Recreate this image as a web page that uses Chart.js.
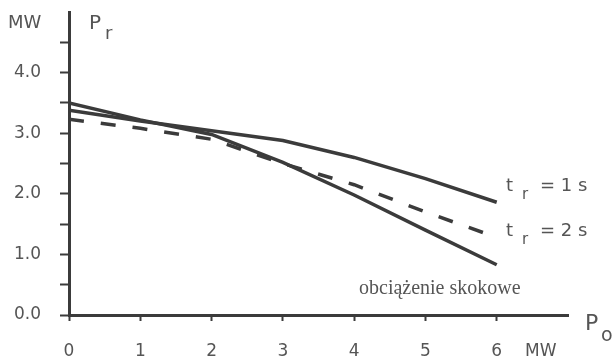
<!DOCTYPE html>
<html>
<head>
<meta charset="utf-8">
<script src="https://cdn.jsdelivr.net/npm/chart.js@4"></script>
<style>
    html, body { margin: 0; padding: 0; background: #fff; }
    #wrap { width: 614px; height: 359px; position: relative; }
</style>
</head>
<body>
<div id="wrap"><canvas id="chart"></canvas></div>
<script>
// values (MW)
const loads = [0, 1, 2, 3, 4, 5, 6];
const tr1s = [3.38, 3.2, 3.04, 2.88, 2.6, 2.25, 1.86];
const tr2s = [3.23, 3.08, 2.9, 2.5, 2.15, 1.7, 1.28];
const stepLoad = [3.5, 3.22, 2.98, 2.52, 1.98, 1.4, 0.83];
const yTickLabels = ['0.0', '1.0', '2.0', '3.0', '4.0'];

const ink = '#3b3b3b';
const textInk = '#555';

function toPoints(values) {
    return loads.map((x, i) => ({ x: x, y: values[i] }));
}

// text annotations drawn next to the axes and curves
const annotations = {
    id: 'annotations',
    afterDraw(chart) {
        const ctx = chart.ctx;
        ctx.save();
        ctx.fillStyle = textInk;
        ctx.textBaseline = 'alphabetic';
        ctx.textAlign = 'left';

        // axis units and names
        ctx.font = '18px "DejaVu Sans"';
        ctx.fillText('MW', 8, 28);
        ctx.font = '20px "DejaVu Sans"';
        ctx.fillText('P', 89, 29);
        ctx.font = '18px "DejaVu Sans"';
        ctx.fillText('r', 105, 39);

        ctx.font = '22px "DejaVu Sans"';
        ctx.fillText('P', 585, 330);
        ctx.font = '19px "DejaVu Sans"';
        ctx.fillText('o', 601, 341);
        ctx.font = '17px "DejaVu Sans"';
        ctx.fillText('MW', 525, 356);

        // curve labels
        ctx.font = '18px "DejaVu Sans"';
        ctx.fillText('t', 506, 191);
        ctx.fillText('= 1 s', 540, 191);
        ctx.fillText('t', 506, 236);
        ctx.fillText('= 2 s', 540, 236);
        ctx.font = '15px "DejaVu Sans"';
        ctx.fillText('r', 522, 199);
        ctx.fillText('r', 522, 244);

        ctx.font = '20px "Liberation Serif"';
        ctx.fillText('obciążenie skokowe', 359, 294);
        ctx.restore();
    }
};

new Chart(document.getElementById('chart'), {
    type: 'line',
    data: {
        datasets: [
            {
                label: 't_r = 1 s',
                data: toPoints(tr1s),
                borderColor: ink,
                borderWidth: 3.5,
                pointRadius: 0,
                tension: 0
            },
            {
                label: 't_r = 2 s',
                data: toPoints(tr2s),
                borderColor: ink,
                borderWidth: 3.5,
                borderDash: [15, 17],
                borderCapStyle: 'butt',
                pointRadius: 0,
                tension: 0
            },
            {
                label: 'obciążenie skokowe',
                data: toPoints(stepLoad),
                borderColor: ink,
                borderWidth: 3.5,
                pointRadius: 0,
                tension: 0
            }
        ]
    },
    options: {
        responsive: true,
        maintainAspectRatio: false,
        animation: false,
        layout: { padding: { left: 0, right: 46, top: 12, bottom: 0 } },
        plugins: {
            legend: { display: false },
            tooltip: { enabled: false }
        },
        scales: {
            x: {
                type: 'linear',
                min: 0,
                max: 7,
                afterFit: (scale) => { scale.height = 44; scale.paddingRight = 0; scale.paddingLeft = 0; },
                border: { color: ink, width: 3 },
                grid: {
                    drawOnChartArea: false,
                    tickLength: 6,
                    tickWidth: 2,
                    tickColor: (c) => (c.tick && c.tick.value === 7 ? 'rgba(0,0,0,0)' : ink)
                },
                ticks: {
                    stepSize: 1,
                    padding: 20,
                    color: textInk,
                    font: { family: 'DejaVu Sans', size: 17 },
                    callback: (v) => (loads.includes(v) ? String(v) : '')
                }
            },
            y: {
                min: 0,
                max: 5,
                afterFit: (scale) => { scale.width = 69; scale.paddingTop = 0; scale.paddingBottom = 0; },
                border: { color: ink, width: 3 },
                grid: {
                    drawOnChartArea: false,
                    tickLength: 9,
                    tickWidth: 2,
                    tickColor: (c) => (c.tick && c.tick.value === 5 ? 'rgba(0,0,0,0)' : ink)
                },
                ticks: {
                    stepSize: 0.5,
                    padding: 19,
                    color: textInk,
                    font: { family: 'DejaVu Sans', size: 17 },
                    callback: (v) => (Number.isInteger(v) && v < yTickLabels.length ? yTickLabels[v] : '')
                }
            }
        }
    },
    plugins: [annotations]
});
</script>
</body>
</html>
